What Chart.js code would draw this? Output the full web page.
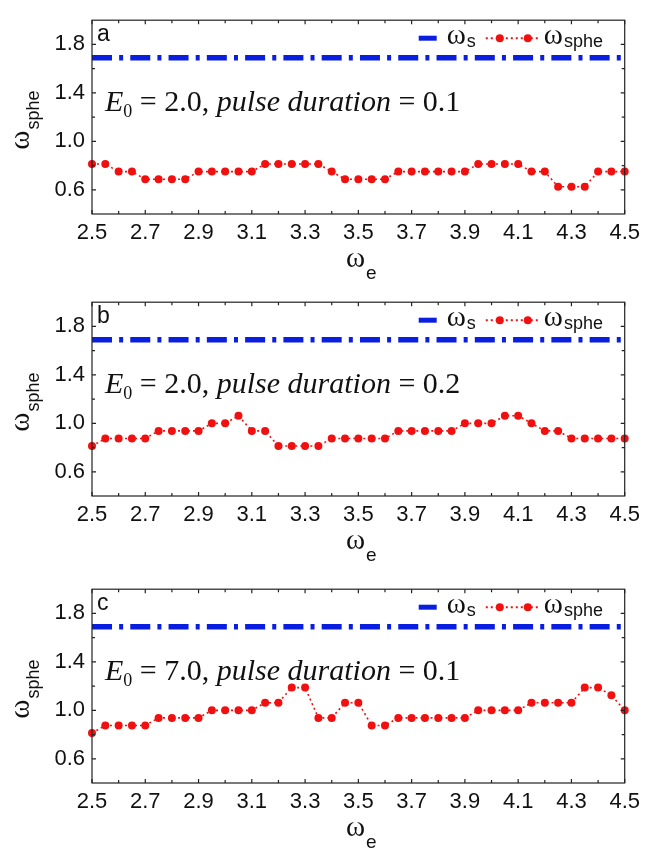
<!DOCTYPE html>
<html>
<head>
<meta charset="utf-8">
<script src="https://cdn.jsdelivr.net/npm/chart.js@4.4.1/dist/chart.umd.min.js"></script>
<style>
    body { margin: 0; background: #fff; }
    .panel { position: absolute; left: 0; }
</style>
</head>
<body>
<canvas id="panel-a" class="panel" style="top:0px" width="646" height="282"></canvas>
<canvas id="panel-b" class="panel" style="top:282px" width="646" height="282"></canvas>
<canvas id="panel-c" class="panel" style="top:569px" width="646" height="281"></canvas>
<script>
// omega_e values (x) shared by all three panels
const omegaE = [2.50, 2.55, 2.60, 2.65, 2.70, 2.75, 2.80, 2.85, 2.90, 2.95,
    3.00, 3.05, 3.10, 3.15, 3.20, 3.25, 3.30, 3.35, 3.40, 3.45,
    3.50, 3.55, 3.60, 3.65, 3.70, 3.75, 3.80, 3.85, 3.90, 3.95,
    4.00, 4.05, 4.10, 4.15, 4.20, 4.25, 4.30, 4.35, 4.40, 4.45, 4.50];

const sphereA = [0.8125, 0.8125, 0.75, 0.75, 0.6875, 0.6875, 0.6875, 0.6875, 0.75, 0.75,
    0.75, 0.75, 0.75, 0.8125, 0.8125, 0.8125, 0.8125, 0.8125, 0.75, 0.6875,
    0.6875, 0.6875, 0.6875, 0.75, 0.75, 0.75, 0.75, 0.75, 0.75, 0.8125,
    0.8125, 0.8125, 0.8125, 0.75, 0.75, 0.625, 0.625, 0.625, 0.75, 0.75, 0.75];

const sphereB = [0.8125, 0.875, 0.875, 0.875, 0.875, 0.9375, 0.9375, 0.9375, 0.9375, 1.0,
    1.0, 1.0625, 0.9375, 0.9375, 0.8125, 0.8125, 0.8125, 0.8125, 0.875, 0.875,
    0.875, 0.875, 0.875, 0.9375, 0.9375, 0.9375, 0.9375, 0.9375, 1.0, 1.0,
    1.0, 1.0625, 1.0625, 1.0, 0.9375, 0.9375, 0.875, 0.875, 0.875, 0.875, 0.875];

const sphereC = [0.8125, 0.875, 0.875, 0.875, 0.875, 0.9375, 0.9375, 0.9375, 0.9375, 1.0,
    1.0, 1.0, 1.0, 1.0625, 1.0625, 1.1875, 1.1875, 0.9375, 0.9375, 1.0625,
    1.0625, 0.875, 0.875, 0.9375, 0.9375, 0.9375, 0.9375, 0.9375, 0.9375, 1.0,
    1.0, 1.0, 1.0, 1.0625, 1.0625, 1.0625, 1.0625, 1.1875, 1.1875, 1.125, 1.0];

// omega_s is flat across the whole range
const omegaSEnds = [2.5, 4.5];
const omegaS = [1.69, 1.69];

const xTicks = [2.5, 2.7, 2.9, 3.1, 3.3, 3.5, 3.7, 3.9, 4.1, 4.3, 4.5];
const xMinorTicks = [2.6, 2.8, 3.0, 3.2, 3.4, 3.6, 3.8, 4.0, 4.2, 4.4];
const yTicks = [0.6, 1.0, 1.4, 1.8];
const yMinorTicks = [0.8, 1.2, 1.6];

const panelLetters = ['a', 'b', 'c'];
const fieldStrengths = ['2.0', '2.0', '7.0'];
const pulseDurations = ['0.1', '0.2', '0.1'];

const BLUE = '#0a1ee0';
const RED = '#f01010';
const INK = '#111';
const SANS = '"Liberation Sans", Arial, sans-serif';
const SERIF = '"Liberation Serif", "Times New Roman", serif';
const OMEGA = 29;

function drawOmega(ctx, x, y, sub, omegaSize, subSize, drop) {
    ctx.font = omegaSize + 'px ' + SERIF;
    ctx.fillText('ω', x, y);
    const w = ctx.measureText('ω').width;
    ctx.font = subSize + 'px ' + SANS;
    ctx.fillText(sub, x + w + 1, y + drop);
    return w + 1 + ctx.measureText(sub).width;
}

function omegaWidth(ctx, sub, omegaSize, subSize) {
    ctx.font = omegaSize + 'px ' + SERIF;
    const w = ctx.measureText('ω').width;
    ctx.font = subSize + 'px ' + SANS;
    return w + 1 + ctx.measureText(sub).width;
}

const framePlugin = {
    id: 'frame',
    afterDraw(chart, args, opts) {
        const ctx = chart.ctx;
        const area = chart.chartArea;
        const xs = chart.scales.x;
        const ys = chart.scales.y;
        ctx.save();

        // box and inward ticks on all four sides
        ctx.strokeStyle = '#222';
        ctx.lineWidth = 1.2;
        ctx.strokeRect(area.left, area.top, area.right - area.left, area.bottom - area.top);
        ctx.beginPath();
        const tick = (v, len, horiz) => {
            if (horiz) {
                const px = xs.getPixelForValue(v);
                ctx.moveTo(px, area.bottom); ctx.lineTo(px, area.bottom - len);
                ctx.moveTo(px, area.top); ctx.lineTo(px, area.top + len);
            } else {
                const py = ys.getPixelForValue(v);
                ctx.moveTo(area.left, py); ctx.lineTo(area.left + len, py);
                ctx.moveTo(area.right, py); ctx.lineTo(area.right - len, py);
            }
        };
        xTicks.forEach(v => tick(v, 4, true));
        xMinorTicks.forEach(v => tick(v, 3, true));
        yTicks.forEach(v => tick(v, 4, false));
        yMinorTicks.forEach(v => tick(v, 3, false));
        ctx.stroke();

        ctx.fillStyle = INK;
        ctx.textBaseline = 'alphabetic';

        // panel letter
        ctx.font = '23px ' + SANS;
        ctx.textAlign = 'left';
        ctx.fillText(opts.letter, area.left + 5, area.top + 21);

        // annotation: E0 = x, pulse duration = y
        let x = area.left + 13;
        const base = area.top + 91;
        ctx.font = 'italic 30px ' + SERIF;
        ctx.fillText('E', x, base);
        x += ctx.measureText('E').width;
        ctx.font = '18px ' + SERIF;
        ctx.fillText('0', x, base + 6);
        x += ctx.measureText('0').width;
        ctx.font = '30px ' + SERIF;
        const part1 = ' = ' + opts.field + ', ';
        ctx.fillText(part1, x, base);
        x += ctx.measureText(part1).width;
        ctx.font = 'italic 30px ' + SERIF;
        ctx.fillText('pulse duration', x, base);
        x += ctx.measureText('pulse duration').width;
        ctx.font = '30px ' + SERIF;
        ctx.fillText(' = ' + opts.pulse, x, base);

        // legend, top right inside the frame
        let lx = area.right - 206;
        const ly = area.top + 18;
        ctx.strokeStyle = BLUE;
        ctx.lineWidth = 5;
        ctx.beginPath();
        ctx.moveTo(lx, ly); ctx.lineTo(lx + 18, ly);
        ctx.stroke();
        lx += 28;
        lx += drawOmega(ctx, lx, area.top + 24, 's', OMEGA, 18, 3);
        lx += 10;
        ctx.strokeStyle = RED;
        ctx.lineWidth = 2;
        ctx.setLineDash([2, 3]);
        ctx.beginPath();
        ctx.moveTo(lx, ly); ctx.lineTo(lx + 54, ly);
        ctx.stroke();
        ctx.setLineDash([]);
        ctx.fillStyle = RED;
        [14, 42].forEach(dx => {
            ctx.beginPath();
            ctx.arc(lx + dx, ly, 4, 0, Math.PI * 2);
            ctx.fill();
        });
        lx += 58;
        ctx.fillStyle = INK;
        drawOmega(ctx, lx, area.top + 24, 'sphe', OMEGA, 18, 3);

        // x axis title
        const xw = omegaWidth(ctx, 'e', OMEGA, 19);
        drawOmega(ctx, (area.left + area.right) / 2 + 3 - xw / 2, area.bottom + 53, 'e', OMEGA, 19, 12);

        // y axis title, rotated
        ctx.save();
        ctx.translate(29, (area.top + area.bottom) / 2 + 3);
        ctx.rotate(-Math.PI / 2);
        const yw = omegaWidth(ctx, 'sphe', OMEGA, 18);
        drawOmega(ctx, -yw / 2, 0, 'sphe', OMEGA, 18, 10);
        ctx.restore();

        ctx.restore();
    }
};

function makePanel(id, values, idx) {
    const canvas = document.getElementById(id);
    const tickFont = { family: SANS, size: 22 };
    return new Chart(canvas.getContext('2d'), {
        type: 'line',
        data: {
            datasets: [{
                label: 'ωs',
                data: omegaSEnds.map((v, i) => ({ x: v, y: omegaS[i] })),
                borderColor: BLUE,
                borderWidth: 5.5,
                borderDash: [20, 7.14, 4, 7.14],
                borderCapStyle: 'butt',
                pointRadius: 0
            }, {
                label: 'ωsphe',
                data: omegaE.map((v, i) => ({ x: v, y: values[i] })),
                borderColor: RED,
                borderWidth: 1.6,
                borderDash: [2, 3],
                pointRadius: 4,
                pointBorderWidth: 0,
                pointBackgroundColor: RED,
                tension: 0
            }]
        },
        options: {
            responsive: false,
            animation: false,
            events: [],
            clip: false,
            layout: { padding: { top: 9, right: 18, left: 0, bottom: 0 } },
            plugins: {
                legend: { display: false },
                tooltip: { enabled: false },
                frame: {
                    letter: panelLetters[idx],
                    field: fieldStrengths[idx],
                    pulse: pulseDurations[idx]
                }
            },
            scales: {
                x: {
                    type: 'linear',
                    min: 2.5,
                    max: 4.5,
                    afterBuildTicks: s => { s.ticks = xTicks.map(v => ({ value: v })); },
                    afterFit: s => { s.height = canvas.height - 9 - 205; },
                    ticks: {
                        font: tickFont,
                        color: INK,
                        padding: 6,
                        maxRotation: 0,
                        autoSkip: false,
                        callback: v => v.toFixed(1)
                    },
                    grid: { display: false, drawTicks: false },
                    border: { display: false }
                },
                y: {
                    min: 0.4,
                    max: 2.0,
                    afterBuildTicks: s => { s.ticks = yTicks.map(v => ({ value: v })); },
                    afterFit: s => { s.width = 92; },
                    ticks: {
                        font: tickFont,
                        color: INK,
                        padding: 7,
                        callback: v => v.toFixed(1)
                    },
                    grid: { display: false, drawTicks: false },
                    border: { display: false }
                }
            }
        },
        plugins: [framePlugin]
    });
}

makePanel('panel-a', sphereA, 0);
makePanel('panel-b', sphereB, 1);
makePanel('panel-c', sphereC, 2);
</script>
</body>
</html>
